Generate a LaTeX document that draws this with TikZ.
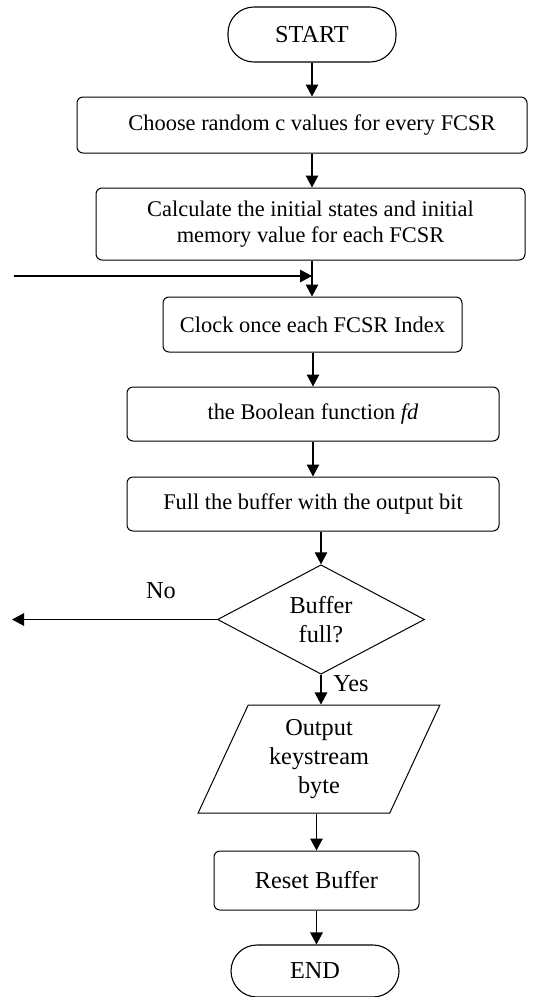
\documentclass[tikz,border=0pt]{standalone}
\usepackage{fontspec}
\setmainfont{Liberation Serif}
\usetikzlibrary{shapes.geometric,arrows.meta,calc}
\newcommand\figfont{\fontsize{22.4}{27.5}\selectfont}
\newcommand\figbigfont{\fontsize{24.3}{29}\selectfont}
\begin{document}
\begin{tikzpicture}[x=1pt,y=1pt,
  box/.style={draw, line width=1pt, rounded corners=6pt, minimum height=55pt,
    inner sep=0pt, align=center, font=\figfont},
  term/.style={draw, line width=1.1pt, rounded corners=26pt, minimum width=168pt,
    minimum height=55pt, inner sep=0pt, font=\figbigfont},
  dec/.style={draw, line width=1pt, shape=diamond, minimum width=207pt,
    minimum height=107pt, inner sep=0pt, align=center, font=\figbigfont},
  io/.style={draw, line width=1pt, shape=trapezium, trapezium left angle=66,
    trapezium right angle=114, trapezium stretches=true, minimum width=242pt,
    minimum height=108pt, inner sep=0pt, align=center, font=\figbigfont},
  arr/.style={line width=1.3pt, -{Triangle[length=12pt,width=12.5pt]}},
  lbl/.style={font=\figbigfont, inner sep=0pt}]
\useasboundingbox (0,0) rectangle (536,-997);

\node[term] (start) at (312,-34.5) {START};
\node[box, minimum width=450pt, minimum height=56pt] (b1) at (302,-125)
  {\hspace*{20pt}Choose random c values for every FCSR};
\node[box, minimum width=429pt, minimum height=72pt, font=\fontsize{22.4}{26.5}\selectfont] (b2) at (310.5,-224)
  {Calculate the initial states and initial\\memory value for each FCSR};
\node[box, minimum width=299pt] (clk) at (312.5,-324.5) {Clock once each FCSR Index};
\node[box, minimum width=372pt, minimum height=54pt] (bool) at (313,-414)
  {the Boolean function \textit{fd}};
\node[box, minimum width=372pt, minimum height=54pt] (full) at (313,-504)
  {Full the buffer with the output bit};
\node[dec] (dec) at (321,-619.5) {Buffer\\full?};
\node[io] (out) at (319,-759) {Output\\keystream\\byte};
\node[box, minimum width=205pt, minimum height=59pt, font=\figbigfont] (reset) at (316.5,-880.5) {Reset Buffer};
\node[term, minimum height=52pt] (end) at (315,-971) {END};

\coordinate (in) at (14,-276);
\coordinate (m) at (start.south |- in);
\coordinate (noend) at (12,-619.5);

\draw[arr] (start.south) -- (start.south |- b1.north);
\draw[arr] (b1.south -| start.south) -- (b2.north -| start.south);
\draw[arr] (b2.south -| start.south) -- (clk.north -| start.south);
\draw[arr] (in) -- (m);
\draw[arr] (bool.north |- clk.south) -- (bool.north);
\draw[arr] (bool.south) -- (bool.south |- full.north);
\draw[arr] (dec.north |- full.south) -- (dec.north);
\draw[arr] (dec.south) -- (dec.south |- out.north);
\draw[arr] (reset.north |- out.south) -- (reset.north);
\draw[arr] (reset.south) -- (reset.south |- end.north);
\draw[arr] (dec.west) -- (noend);

\node[lbl] (no) at (161,-591) {No};
\node[lbl] (yes) at (351,-684) {Yes};
\end{tikzpicture}
\end{document}
